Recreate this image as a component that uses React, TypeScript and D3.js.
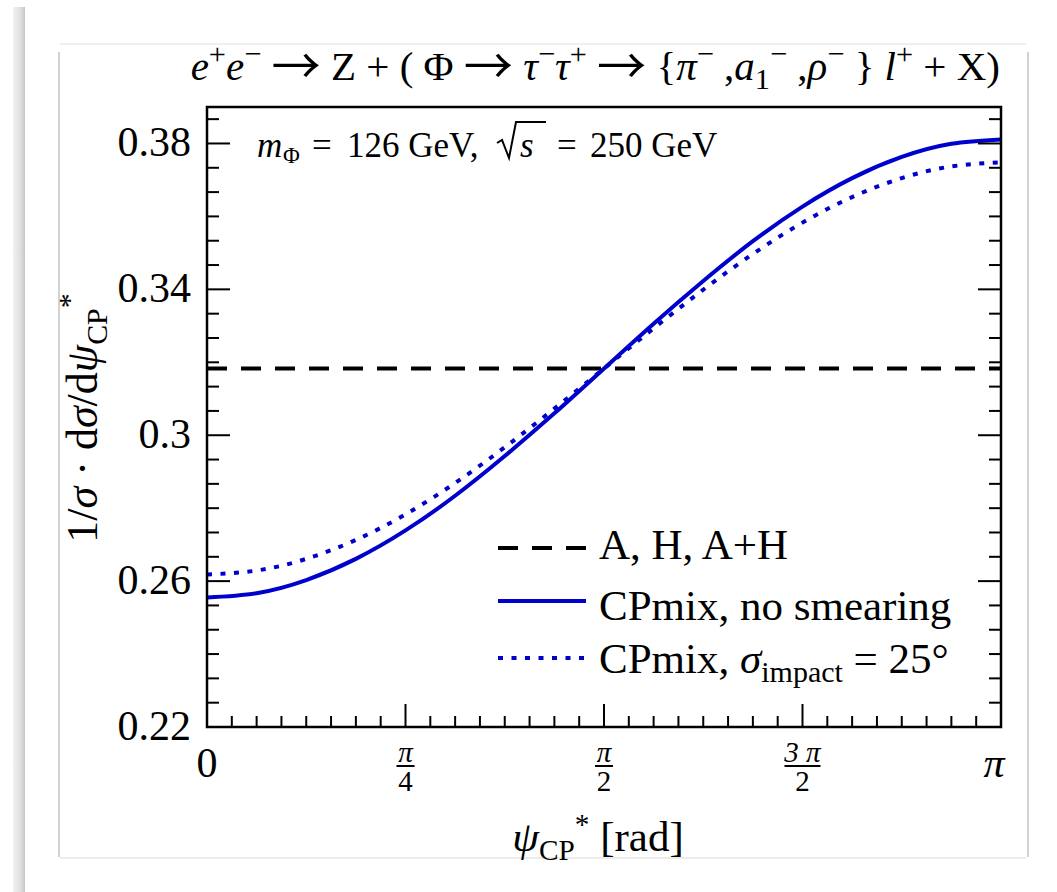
import React from "react";
import * as d3 from "d3";

// ---- data ----
const psiIndex = [0, 1, 2, 3, 4, 5, 6, 7, 8, 9, 10, 11, 12, 13, 14, 15, 16]; // in units of pi/16
const solidVals = [0.2555, 0.2567, 0.2603, 0.2661, 0.2739, 0.2834, 0.2943, 0.306, 0.3183, 0.3306, 0.3423, 0.3532, 0.3627, 0.3705, 0.3763, 0.3799, 0.3811];
const dottedVals = [0.2618, 0.2629, 0.2661, 0.2713, 0.2783, 0.2869, 0.2967, 0.3073, 0.3183, 0.3293, 0.3399, 0.3497, 0.3583, 0.3653, 0.3705, 0.3737, 0.3748];
const flatX = [0, Math.PI];
const flatVals = [0.3183, 0.3183];

const yMajor = [0.22, 0.26, 0.3, 0.34, 0.38];
const yMajorLabels = ["0.22", "0.26", "0.3", "0.34", "0.38"];
const xMajor = [0, Math.PI / 4, Math.PI / 2, (3 * Math.PI) / 4, Math.PI];
const xMajorNum = ["0", "π", "π", "3 π", "π"];
const xMajorDen = ["", "4", "2", "2", ""];
const legendLabels = ["A, H, A+H", "CPmix, no smearing", "CPmix, σimpact = 25°"];

const FONT = "'Liberation Serif', 'Times New Roman', serif";
const ARROW_FONT = "'Noto Sans CJK SC', 'DejaVu Serif', serif";
const BLUE = "#0000cc";

type Seg = { t: string; i?: boolean; sup?: boolean; sub?: boolean; arrow?: boolean };

function Rich({ segs, size, supScale = 0.68 }: { segs: Seg[]; size: number; supScale?: number }) {
  let cur = 0;
  return (
    <>
      {segs.map((sg, k) => {
        const target = sg.sup ? -0.4 * size : sg.sub ? 0.22 * size : sg.arrow ? 0.1 * size : 0;
        const dy = target - cur;
        cur = target;
        const fs = sg.sup || sg.sub ? size * supScale : sg.arrow ? size * 1.2 : size;
        return (
          <tspan
            key={k}
            dy={dy}
            fontStyle={sg.i ? "italic" : "normal"}
            fontFamily={sg.arrow ? ARROW_FONT : undefined}
            fontSize={fs}
          >
            {sg.t}
          </tspan>
        );
      })}
    </>
  );
}

export default function App() {
  const x = d3.scaleLinear().domain([0, Math.PI]).range([207, 1001]);
  const y = d3.scaleLinear().domain([0.22, 0.39]).range([727, 107]);
  const L = 207, R = 1001, T = 107, B = 727;

  const psi = psiIndex.map((k) => (k * Math.PI) / 16);
  const line = d3
    .line<[number, number]>()
    .x((d) => x(d[0]))
    .y((d) => y(d[1]))
    .curve(d3.curveNatural);
  const solidPath = line(psi.map((p, i) => [p, solidVals[i]]))!;
  const dottedPath = line(psi.map((p, i) => [p, dottedVals[i]]))!;
  const flatPath = d3
    .line<[number, number]>()
    .x((d) => x(d[0]))
    .y((d) => y(d[1]))(flatX.map((p, i) => [p, flatVals[i]]))!;

  const yMinor = d3.range(0, 26).map((k) => 0.22 + (k * 0.04) / 6);
  const xMinor = d3.range(0, 33).map((k) => (k * Math.PI) / 32);

  const titleSegs: Seg[] = [
    { t: "e", i: true }, { t: "+", sup: true }, { t: "e", i: true }, { t: "−", sup: true },
    { t: " " }, { t: "→", arrow: true }, { t: " Z + ( Φ " }, { t: "→", arrow: true }, { t: " " },
    { t: "τ", i: true }, { t: "−", sup: true }, { t: "τ", i: true }, { t: "+", sup: true },
    { t: " " }, { t: "→", arrow: true }, { t: " {" }, { t: "π", i: true }, { t: "−", sup: true }, { t: " ," },
    { t: "a", i: true }, { t: "1", sub: true },
    { t: "−", sup: true }, { t: " ," }, { t: "ρ", i: true }, { t: "−", sup: true }, { t: " } " }, { t: "l", i: true },
    { t: "+", sup: true }, { t: " + X)" },
  ];
  const ySegs: Seg[] = [
    { t: "1/" }, { t: "σ", i: true }, { t: " · d" }, { t: "σ", i: true }, { t: "/d" }, { t: "ψ", i: true },
    { t: "CP", sub: true }, { t: "*", sup: true },
  ];
  const xSegs: Seg[] = [{ t: "ψ", i: true }, { t: "CP", sub: true }, { t: "*", sup: true }, { t: " [rad]" }];

  const legendY = [548, 601, 658];
  const legendTextY = [559, 620, 673];

  return (
    <svg width={1057} height={892} style={{ position: "absolute", left: 0, top: 0, background: "#fff" }} fontFamily={FONT}>
      <defs>
        <linearGradient id="strip" x1="0" x2="1" y1="0" y2="0">
          <stop offset="0" stopColor="#f2f2f2" />
          <stop offset="0.7" stopColor="#dcdcdc" />
          <stop offset="1" stopColor="#c4c4c4" />
        </linearGradient>
        <clipPath id="plot">
          <rect x={L} y={T} width={R - L} height={B - T} />
        </clipPath>
      </defs>
      <rect x={0} y={0} width={1057} height={892} fill="#fff" />
      <rect x={13} y={7} width={12} height={885} fill="url(#strip)" />
      {/* inner page box */}
      <line x1={60} x2={1026} y1={44} y2={44} stroke="#efefef" strokeWidth={2} />
      <line x1={60} x2={1026} y1={858} y2={858} stroke="#ececec" strokeWidth={2} />
      <line x1={59} x2={59} y1={52} y2={857} stroke="#d2d2d2" strokeWidth={2} />
      <line x1={1028} x2={1028} y1={52} y2={857} stroke="#d2d2d2" strokeWidth={2} />

      {/* title */}
      <text x={1000} y={80} textAnchor="end" fontSize={41} style={{ whiteSpace: "pre" }}>
        <Rich segs={titleSegs} size={41} supScale={0.74} />
      </text>

      {/* curves */}
      <g clipPath="url(#plot)" fill="none">
        <path d={flatPath} stroke="#000" strokeWidth={4} strokeDasharray="20,14" />
        <path d={solidPath} stroke={BLUE} strokeWidth={4} />
        <path d={dottedPath} stroke={BLUE} strokeWidth={4} strokeDasharray="5,8.5" />
      </g>

      {/* ticks */}
      <g stroke="#000" strokeWidth={2}>
        {yMinor.map((v, k) => {
          const len = k % 6 === 0 ? 23 : 12;
          return (
            <g key={"y" + k}>
              <line x1={L} x2={L + len} y1={y(v)} y2={y(v)} />
              <line x1={R} x2={R - len} y1={y(v)} y2={y(v)} />
            </g>
          );
        })}
        {xMinor.map((v, k) => {
          const len = k % 8 === 0 ? 23 : 11;
          return <line key={"x" + k} x1={x(v)} x2={x(v)} y1={B} y2={B - len} />;
        })}
      </g>
      <rect x={L} y={T} width={R - L} height={B - T} fill="none" stroke="#000" strokeWidth={2.5} />

      {/* y tick labels */}
      {yMajor.map((v, k) => (
        <text key={k} x={191} y={y(v) + 13} textAnchor="end" fontSize={42}>
          {yMajorLabels[k]}
        </text>
      ))}

      {/* x tick labels */}
      {xMajor.map((v, k) =>
        xMajorDen[k] === "" ? (
          <text key={k} x={x(v) + (k === 0 ? 0 : -7)} y={777} textAnchor="middle" fontSize={42} fontStyle={k === 0 ? "normal" : "italic"}>
            {xMajorNum[k]}
          </text>
        ) : (
          <g key={k}>
            <text x={x(v)} y={762} textAnchor="middle" fontSize={29} fontStyle="italic" style={{ whiteSpace: "pre" }}>
              {xMajorNum[k]}
            </text>
            <line
              x1={x(v) - (xMajorNum[k].length > 1 ? 18 : 9)}
              x2={x(v) + (xMajorNum[k].length > 1 ? 18 : 9)}
              y1={766}
              y2={766}
              stroke="#000"
              strokeWidth={2}
            />
            <text x={x(v)} y={791} textAnchor="middle" fontSize={29}>
              {xMajorDen[k]}
            </text>
          </g>
        )
      )}

      {/* axis labels */}
      <text x={598} y={851} textAnchor="middle" fontSize={43} style={{ whiteSpace: "pre" }}>
        <Rich segs={xSegs} size={43} />
      </text>
      <text transform="translate(97,418) rotate(-90)" textAnchor="middle" fontSize={44} style={{ whiteSpace: "pre" }}>
        <Rich segs={ySegs} size={44} />
      </text>

      {/* annotation */}
      <text x={257} y={157} fontSize={35} fontStyle="italic">m</text>
      <text x={283} y={163} fontSize={23}>Φ</text>
      <text x={312} y={157} fontSize={35}>=</text>
      <text x={347} y={157} fontSize={35} style={{ whiteSpace: "pre" }}>126 GeV,</text>
      <path d="M497,143 L502,140 L509,158 L516,122 L546,122" fill="none" stroke="#000" strokeWidth={2} />
      <text x={520} y={157} fontSize={35} fontStyle="italic">s</text>
      <text x={557} y={157} fontSize={35}>=</text>
      <text x={590} y={157} fontSize={35} style={{ whiteSpace: "pre" }}>250 GeV</text>

      {/* legend */}
      <g fill="none" strokeWidth={4}>
        <line x1={498} x2={586} y1={legendY[0]} y2={legendY[0]} stroke="#000" strokeDasharray="20,14" />
        <line x1={498} x2={586} y1={legendY[1]} y2={legendY[1]} stroke={BLUE} />
        <line x1={498} x2={586} y1={legendY[2]} y2={legendY[2]} stroke={BLUE} strokeDasharray="5,8.5" />
      </g>
      <text x={599} y={legendTextY[0]} fontSize={43}>{legendLabels[0]}</text>
      <text x={599} y={legendTextY[1]} fontSize={43}>{legendLabels[1]}</text>
      <text x={599} y={legendTextY[2]} fontSize={43} style={{ whiteSpace: "pre" }}>
        <tspan>CPmix, </tspan>
        <tspan fontStyle="italic">σ</tspan>
        <tspan dy={9} fontSize={30}>impact</tspan>
        <tspan dy={-9}> = 25°</tspan>
      </text>
    </svg>
  );
}
